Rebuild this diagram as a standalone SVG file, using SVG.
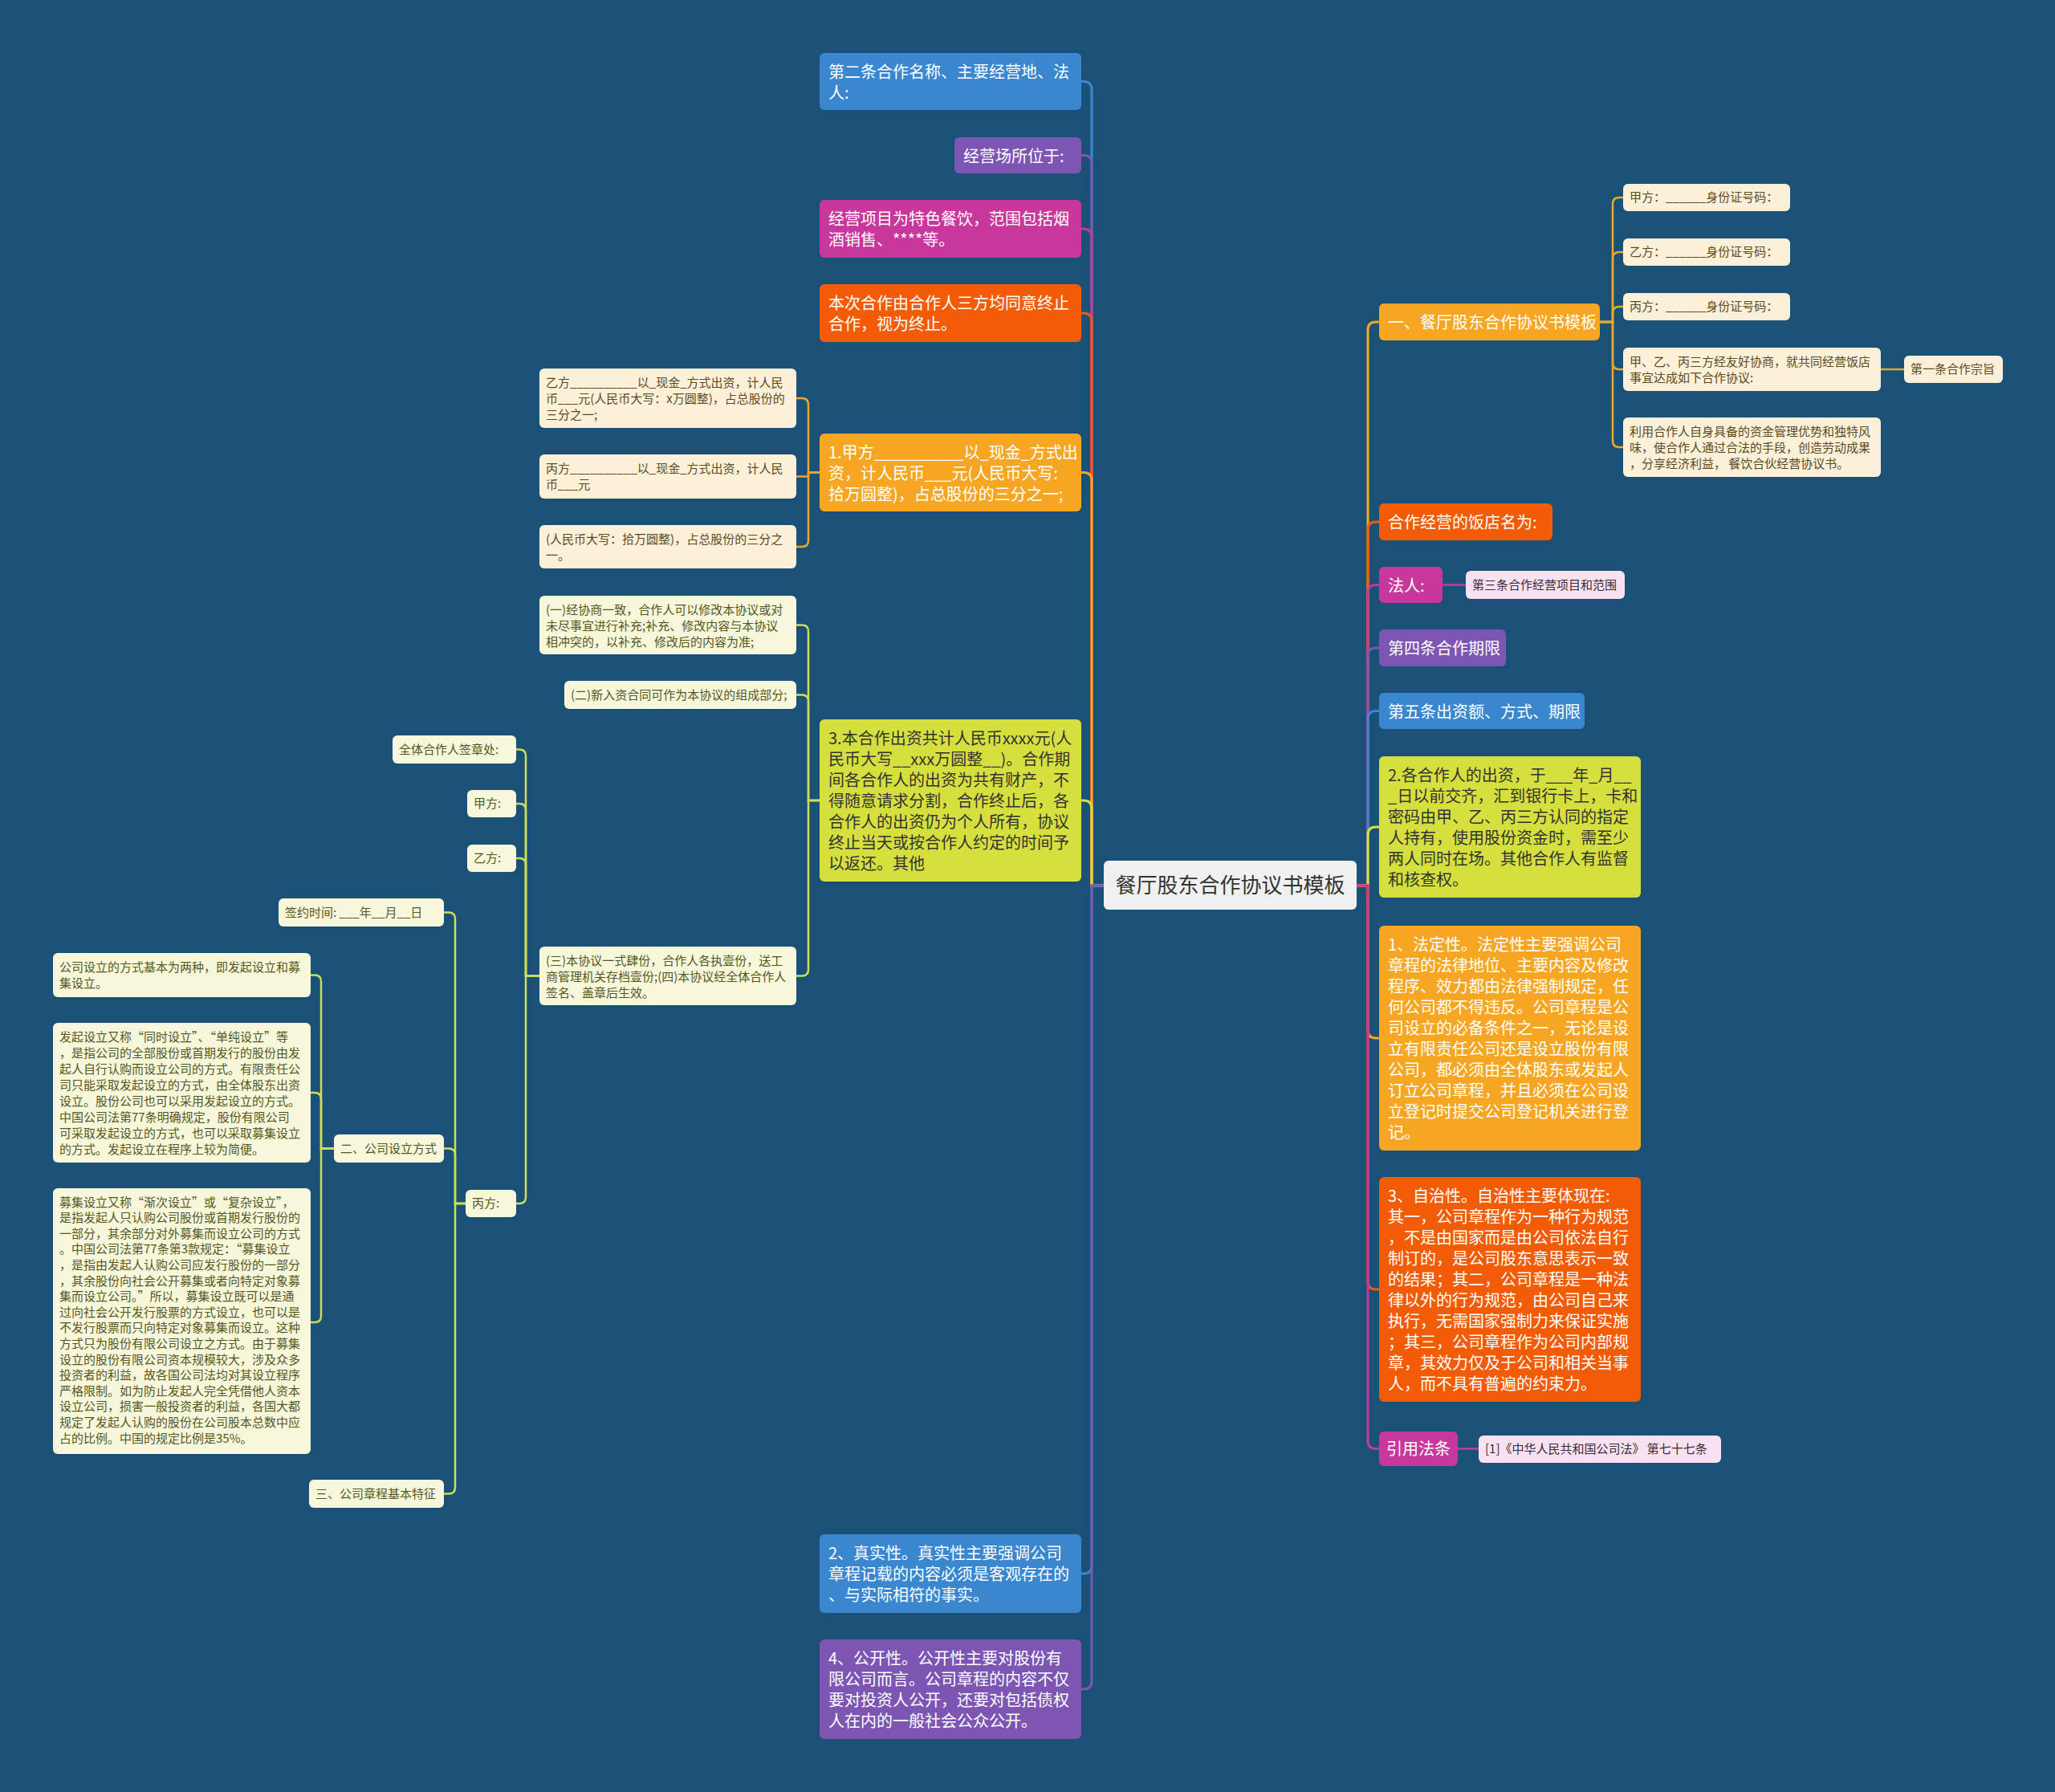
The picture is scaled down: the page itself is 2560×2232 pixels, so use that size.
<svg xmlns="http://www.w3.org/2000/svg" width="2560" height="2232" viewBox="0 0 2560 2232">
<style>
text{font-family:"Noto Sans CJK SC","Noto Sans",sans-serif}
.L{font-size:20px;fill:#ffffff}
.Ld{font-size:20px;fill:#333333}
.Sc{font-size:15px;fill:#5b4a1e}
.Sg{font-size:15px;fill:#55561a}
.Sp{font-size:15px;fill:#3a2a35}
.c{fill:none;stroke-width:3;stroke-linecap:round}
.cs{fill:none;stroke-width:2.5;stroke-linecap:round}
.blue{fill:#3a87d0}.purple{fill:#7d56b4}.mag{fill:#c8379b}.orange{fill:#f35c06}.gold{fill:#f6a623}.yg{fill:#d5e03e}
.cream{fill:#fdf0d8}.pale{fill:#f7f7dc}.pink{fill:#f8e1f1}
</style>
<rect x="0" y="0" width="2560" height="2232" fill="#1b5177"/>
<g id="connectors">
<path class="c" stroke="#3a87d0" d="M1375 1103 H1360 V111.5 Q1360 101.5 1350 101.5 H1347"/>
<path class="c" stroke="#7d56b4" d="M1375 1103 H1360 V203.5 Q1360 193.5 1350 193.5 H1347"/>
<path class="c" stroke="#c8379b" d="M1375 1103 H1360 V295 Q1360 285 1350 285 H1347"/>
<path class="c" stroke="#f35c06" d="M1375 1103 H1360 V400 Q1360 390 1350 390 H1347"/>
<path class="c" stroke="#f6a623" d="M1375 1103 H1360 V598.5 Q1360 588.5 1350 588.5 H1347"/>
<path class="c" stroke="#d5e03e" d="M1375 1103 H1360 V1007 Q1360 997 1350 997 H1347"/>
<path class="c" stroke="#3a87d0" d="M1375 1103 H1360 V1950 Q1360 1960 1350 1960 H1347"/>
<path class="c" stroke="#7d56b4" d="M1375 1103 H1360 V2094 Q1360 2104 1350 2104 H1347"/>
<path class="c" stroke="#f6a623" d="M1690 1103 H1704 V411 Q1704 401 1714 401 H1718"/>
<path class="c" stroke="#f35c06" d="M1690 1103 H1704 V660 Q1704 650 1714 650 H1718"/>
<path class="c" stroke="#c8379b" d="M1690 1103 H1704 V738.5 Q1704 728.5 1714 728.5 H1718"/>
<path class="c" stroke="#7d56b4" d="M1690 1103 H1704 V817 Q1704 807 1714 807 H1718"/>
<path class="c" stroke="#3a87d0" d="M1690 1103 H1704 V895.5 Q1704 885.5 1714 885.5 H1718"/>
<path class="c" stroke="#d5e03e" d="M1690 1103 H1704 V1040 Q1704 1030 1714 1030 H1718"/>
<path class="c" stroke="#f6a623" d="M1690 1103 H1704 V1283 Q1704 1293 1714 1293 H1718"/>
<path class="c" stroke="#f35c06" d="M1690 1103 H1704 V1596 Q1704 1606 1714 1606 H1718"/>
<path class="c" stroke="#c8379b" d="M1690 1103 H1704 V1794.5 Q1704 1804.5 1714 1804.5 H1718"/>
<path class="cs" stroke="#e6a82e" d="M1021 588.5 H1007 V504 Q1007 496 999 496 H992"/>
<path class="cs" stroke="#e6a82e" d="M1021 588.5 H1007 V593.5 H992"/>
<path class="cs" stroke="#e6a82e" d="M1021 588.5 H1007 V673 Q1007 681 999 681 H992"/>
<path class="cs" stroke="#c9df5a" d="M1021 997 H1007 V786.5 Q1007 778.5 999 778.5 H992"/>
<path class="cs" stroke="#c9df5a" d="M1021 997 H1007 V873.5 Q1007 865.5 999 865.5 H992"/>
<path class="cs" stroke="#c9df5a" d="M1021 997 H1007 V1207.5 Q1007 1215.5 999 1215.5 H992"/>
<path class="cs" stroke="#c9df5a" d="M672 1215.5 H655 V941.5 Q655 933.5 647 933.5 H643"/>
<path class="cs" stroke="#c9df5a" d="M672 1215.5 H655 V1009 Q655 1001 647 1001 H643"/>
<path class="cs" stroke="#c9df5a" d="M672 1215.5 H655 V1077 Q655 1069 647 1069 H643"/>
<path class="cs" stroke="#c9df5a" d="M672 1215.5 H655 V1491 Q655 1499 647 1499 H643"/>
<path class="cs" stroke="#c9df5a" d="M580 1499 H567 V1144.5 Q567 1136.5 559 1136.5 H553"/>
<path class="cs" stroke="#c9df5a" d="M580 1499 H567 V1438.5 Q567 1430.5 559 1430.5 H553"/>
<path class="cs" stroke="#c9df5a" d="M580 1499 H567 V1852.5 Q567 1860.5 559 1860.5 H553"/>
<path class="cs" stroke="#c9df5a" d="M416 1430.5 H400 V1222.5 Q400 1214.5 392 1214.5 H387"/>
<path class="cs" stroke="#c9df5a" d="M416 1430.5 H400 V1369 Q400 1361 392 1361 H387"/>
<path class="cs" stroke="#c9df5a" d="M416 1430.5 H400 V1639 Q400 1647 392 1647 H387"/>
<path class="cs" stroke="#e6a82e" d="M1993 401 H2009 V254 Q2009 246 2017 246 H2022"/>
<path class="cs" stroke="#e6a82e" d="M1993 401 H2009 V322 Q2009 314 2017 314 H2022"/>
<path class="cs" stroke="#e6a82e" d="M1993 401 H2009 V390 Q2009 382 2017 382 H2022"/>
<path class="cs" stroke="#e6a82e" d="M1993 401 H2009 V452 Q2009 460 2017 460 H2022"/>
<path class="cs" stroke="#e6a82e" d="M1993 401 H2009 V549 Q2009 557 2017 557 H2022"/>
<path class="cs" stroke="#e6a82e" d="M2343 460 H2372"/>
<path class="cs" stroke="#c8379b" d="M1797 728.5 H1826"/>
<path class="cs" stroke="#c8379b" d="M1816 1804.5 H1842"/>
</g>
<g id="root"><rect x="1375" y="1072" width="315" height="61" rx="6" fill="#f0f0f0"/><text x="1532.5" y="1112" font-size="26" fill="#333" text-anchor="middle">餐厅股东合作协议书模板</text></g>
<g id="n1"><rect class="blue" x="1021" y="66" width="326" height="71" rx="6"/><text class="L" x="1032" y="96.5"><tspan x="1032">第二条合作名称、主要经营地、法</tspan><tspan x="1032" dy="26">人:</tspan></text></g>
<g id="n2"><rect class="purple" x="1189" y="171" width="158" height="45" rx="6"/><text class="L" x="1200" y="201.5">经营场所位于:</text></g>
<g id="n3"><rect class="mag" x="1021" y="249" width="326" height="72" rx="6"/><text class="L" x="1032" y="279.5"><tspan x="1032">经营项目为特色餐饮，范围包括烟</tspan><tspan x="1032" dy="26">酒销售、****等。</tspan></text></g>
<g id="n4"><rect class="orange" x="1021" y="354" width="326" height="72" rx="6"/><text class="L" x="1032" y="384.5"><tspan x="1032">本次合作由合作人三方均同意终止</tspan><tspan x="1032" dy="26">合作，视为终止。</tspan></text></g>
<g id="n5"><rect class="gold" x="1021" y="540" width="326" height="97" rx="6"/><text class="L" x="1032" y="570.5"><tspan x="1032">1.甲方__________以_现金_方式出</tspan><tspan x="1032" dy="26">资，计人民币___元(人民币大写:</tspan><tspan x="1032" dy="26">拾万圆整)，占总股份的三分之一;</tspan></text></g>
<g id="n6"><rect class="yg" x="1021" y="896" width="326" height="202" rx="6"/><text class="Ld" x="1032" y="926.5"><tspan x="1032">3.本合作出资共计人民币xxxx元(人</tspan><tspan x="1032" dy="26">民币大写__xxx万圆整__)。合作期</tspan><tspan x="1032" dy="26">间各合作人的出资为共有财产，不</tspan><tspan x="1032" dy="26">得随意请求分割，合作终止后，各</tspan><tspan x="1032" dy="26">合作人的出资仍为个人所有，协议</tspan><tspan x="1032" dy="26">终止当天或按合作人约定的时间予</tspan><tspan x="1032" dy="26">以返还。其他</tspan></text></g>
<g id="n7"><rect class="blue" x="1021" y="1911" width="326" height="98" rx="6"/><text class="L" x="1032" y="1941.5"><tspan x="1032">2、真实性。真实性主要强调公司</tspan><tspan x="1032" dy="26">章程记载的内容必须是客观存在的</tspan><tspan x="1032" dy="26">、与实际相符的事实。</tspan></text></g>
<g id="n8"><rect class="purple" x="1021" y="2042" width="326" height="124" rx="6"/><text class="L" x="1032" y="2072.5"><tspan x="1032">4、公开性。公开性主要对股份有</tspan><tspan x="1032" dy="26">限公司而言。公司章程的内容不仅</tspan><tspan x="1032" dy="26">要对投资人公开，还要对包括债权</tspan><tspan x="1032" dy="26">人在内的一般社会公众公开。</tspan></text></g>
<g id="c1"><rect class="cream" x="672" y="459" width="320" height="74" rx="6"/><text class="Sc" x="680" y="481.5"><tspan x="680">乙方__________以_现金_方式出资，计人民</tspan><tspan x="680" dy="20">币___元(人民币大写：x万圆整)，占总股份的</tspan><tspan x="680" dy="20">三分之一;</tspan></text></g>
<g id="c2"><rect class="cream" x="672" y="566" width="320" height="55" rx="6"/><text class="Sc" x="680" y="588.5"><tspan x="680">丙方__________以_现金_方式出资，计人民</tspan><tspan x="680" dy="20">币___元</tspan></text></g>
<g id="c3"><rect class="cream" x="672" y="654" width="320" height="54" rx="6"/><text class="Sc" x="680" y="676.5"><tspan x="680">(人民币大写：拾万圆整)，占总股份的三分之</tspan><tspan x="680" dy="20">一。</tspan></text></g>
<g id="g1"><rect class="pale" x="672" y="742" width="320" height="73" rx="6"/><text class="Sg" x="680" y="764.5"><tspan x="680">(一)经协商一致，合作人可以修改本协议或对</tspan><tspan x="680" dy="20">未尽事宜进行补充;补充、修改内容与本协议</tspan><tspan x="680" dy="20">相冲突的，以补充、修改后的内容为准;</tspan></text></g>
<g id="g2"><rect class="pale" x="703" y="848" width="289" height="35" rx="6"/><text class="Sg" x="711" y="870.5">(二)新入资合同可作为本协议的组成部分;</text></g>
<g id="g3"><rect class="pale" x="672" y="1179" width="320" height="73" rx="6"/><text class="Sg" x="680" y="1201.5"><tspan x="680">(三)本协议一式肆份，合作人各执壹份，送工</tspan><tspan x="680" dy="20">商管理机关存档壹份;(四)本协议经全体合作人</tspan><tspan x="680" dy="20">签名、盖章后生效。</tspan></text></g>
<g id="s1"><rect class="pale" x="489" y="916" width="154" height="35" rx="6"/><text class="Sg" x="497" y="938.5">全体合作人签章处:</text></g>
<g id="s2"><rect class="pale" x="582" y="984" width="61" height="34" rx="6"/><text class="Sg" x="590" y="1006">甲方:</text></g>
<g id="s3"><rect class="pale" x="582" y="1052" width="61" height="34" rx="6"/><text class="Sg" x="590" y="1074">乙方:</text></g>
<g id="s4"><rect class="pale" x="580" y="1482" width="63" height="34" rx="6"/><text class="Sg" x="588" y="1504">丙方:</text></g>
<g id="u1"><rect class="pale" x="347" y="1119" width="206" height="35" rx="6"/><text class="Sg" x="355" y="1141.5">签约时间: ___年__月__日</text></g>
<g id="u2"><rect class="pale" x="416" y="1413" width="137" height="35" rx="6"/><text class="Sg" x="424" y="1435.5">二、公司设立方式</text></g>
<g id="u3"><rect class="pale" x="385" y="1843" width="168" height="35" rx="6"/><text class="Sg" x="393" y="1865.5">三、公司章程基本特征</text></g>
<g id="v1"><rect class="pale" x="66" y="1187" width="321" height="55" rx="6"/><text class="Sg" x="74" y="1209.5"><tspan x="74">公司设立的方式基本为两种，即发起设立和募</tspan><tspan x="74" dy="20">集设立。</tspan></text></g>
<g id="v2"><rect class="pale" x="66" y="1274" width="321" height="174" rx="6"/><text class="Sg" x="74" y="1296.5"><tspan x="74">发起设立又称“同时设立”、“单纯设立”等</tspan><tspan x="74" dy="20">，是指公司的全部股份或首期发行的股份由发</tspan><tspan x="74" dy="20">起人自行认购而设立公司的方式。有限责任公</tspan><tspan x="74" dy="20">司只能采取发起设立的方式，由全体股东出资</tspan><tspan x="74" dy="20">设立。股份公司也可以采用发起设立的方式。</tspan><tspan x="74" dy="20">中国公司法第77条明确规定，股份有限公司</tspan><tspan x="74" dy="20">可采取发起设立的方式，也可以采取募集设立</tspan><tspan x="74" dy="20">的方式。发起设立在程序上较为简便。</tspan></text></g>
<g id="v3"><rect class="pale" x="66" y="1480" width="321" height="331" rx="6"/><text class="Sg" x="74" y="1502.5"><tspan x="74">募集设立又称“渐次设立”或“复杂设立”，</tspan><tspan x="74" dy="19.6">是指发起人只认购公司股份或首期发行股份的</tspan><tspan x="74" dy="19.6">一部分，其余部分对外募集而设立公司的方式</tspan><tspan x="74" dy="19.6">。中国公司法第77条第3款规定：“募集设立</tspan><tspan x="74" dy="19.6">，是指由发起人认购公司应发行股份的一部分</tspan><tspan x="74" dy="19.6">，其余股份向社会公开募集或者向特定对象募</tspan><tspan x="74" dy="19.6">集而设立公司。”所以，募集设立既可以是通</tspan><tspan x="74" dy="19.6">过向社会公开发行股票的方式设立，也可以是</tspan><tspan x="74" dy="19.6">不发行股票而只向特定对象募集而设立。这种</tspan><tspan x="74" dy="19.6">方式只为股份有限公司设立之方式。由于募集</tspan><tspan x="74" dy="19.6">设立的股份有限公司资本规模较大，涉及众多</tspan><tspan x="74" dy="19.6">投资者的利益，故各国公司法均对其设立程序</tspan><tspan x="74" dy="19.6">严格限制。如为防止发起人完全凭借他人资本</tspan><tspan x="74" dy="19.6">设立公司，损害一般投资者的利益，各国大都</tspan><tspan x="74" dy="19.6">规定了发起人认购的股份在公司股本总数中应</tspan><tspan x="74" dy="19.6">占的比例。中国的规定比例是35%。</tspan></text></g>
<g id="r1"><rect class="gold" x="1718" y="378" width="275" height="46" rx="6"/><text class="L" x="1729" y="408.5">一、餐厅股东合作协议书模板</text></g>
<g id="r2"><rect class="orange" x="1718" y="627" width="216" height="46" rx="6"/><text class="L" x="1729" y="657.5">合作经营的饭店名为:</text></g>
<g id="r3"><rect class="mag" x="1718" y="706" width="79" height="45" rx="6"/><text class="L" x="1729" y="736.5">法人:</text></g>
<g id="r4"><rect class="purple" x="1718" y="784" width="158" height="46" rx="6"/><text class="L" x="1729" y="814.5">第四条合作期限</text></g>
<g id="r5"><rect class="blue" x="1718" y="863" width="256" height="45" rx="6"/><text class="L" x="1729" y="893.5">第五条出资额、方式、期限</text></g>
<g id="r6"><rect class="yg" x="1718" y="942" width="326" height="176" rx="6"/><text class="Ld" x="1729" y="972.5"><tspan x="1729">2.各合作人的出资，于___年_月__</tspan><tspan x="1729" dy="26">_日以前交齐，汇到银行卡上，卡和</tspan><tspan x="1729" dy="26">密码由甲、乙、丙三方认同的指定</tspan><tspan x="1729" dy="26">人持有，使用股份资金时，需至少</tspan><tspan x="1729" dy="26">两人同时在场。其他合作人有监督</tspan><tspan x="1729" dy="26">和核查权。</tspan></text></g>
<g id="r7"><rect class="gold" x="1718" y="1153" width="326" height="280" rx="6"/><text class="L" x="1729" y="1183.5"><tspan x="1729">1、法定性。法定性主要强调公司</tspan><tspan x="1729" dy="26">章程的法律地位、主要内容及修改</tspan><tspan x="1729" dy="26">程序、效力都由法律强制规定，任</tspan><tspan x="1729" dy="26">何公司都不得违反。公司章程是公</tspan><tspan x="1729" dy="26">司设立的必备条件之一，无论是设</tspan><tspan x="1729" dy="26">立有限责任公司还是设立股份有限</tspan><tspan x="1729" dy="26">公司，都必须由全体股东或发起人</tspan><tspan x="1729" dy="26">订立公司章程，并且必须在公司设</tspan><tspan x="1729" dy="26">立登记时提交公司登记机关进行登</tspan><tspan x="1729" dy="26">记。</tspan></text></g>
<g id="r8"><rect class="orange" x="1718" y="1466" width="326" height="280" rx="6"/><text class="L" x="1729" y="1496.5"><tspan x="1729">3、自治性。自治性主要体现在:</tspan><tspan x="1729" dy="26">其一，公司章程作为一种行为规范</tspan><tspan x="1729" dy="26">，不是由国家而是由公司依法自行</tspan><tspan x="1729" dy="26">制订的，是公司股东意思表示一致</tspan><tspan x="1729" dy="26">的结果；其二，公司章程是一种法</tspan><tspan x="1729" dy="26">律以外的行为规范，由公司自己来</tspan><tspan x="1729" dy="26">执行，无需国家强制力来保证实施</tspan><tspan x="1729" dy="26">；其三，公司章程作为公司内部规</tspan><tspan x="1729" dy="26">章，其效力仅及于公司和相关当事</tspan><tspan x="1729" dy="26">人，而不具有普遍的约束力。</tspan></text></g>
<g id="r9"><rect class="mag" x="1718" y="1783" width="98" height="43" rx="6"/><text class="L" x="1727" y="1812">引用法条</text></g>
<g id="w1"><rect class="cream" x="2022" y="229" width="208" height="34" rx="6"/><text class="Sc" x="2030" y="251">甲方：______身份证号码：</text></g>
<g id="w2"><rect class="cream" x="2022" y="297" width="208" height="34" rx="6"/><text class="Sc" x="2030" y="319">乙方：______身份证号码：</text></g>
<g id="w3"><rect class="cream" x="2022" y="365" width="208" height="34" rx="6"/><text class="Sc" x="2030" y="387">丙方：______身份证号码：</text></g>
<g id="w4"><rect class="cream" x="2022" y="433" width="321" height="54" rx="6"/><text class="Sc" x="2030" y="455.5"><tspan x="2030">甲、乙、丙三方经友好协商，就共同经营饭店</tspan><tspan x="2030" dy="20">事宜达成如下合作协议:</tspan></text></g>
<g id="w5"><rect class="cream" x="2022" y="520" width="321" height="74" rx="6"/><text class="Sc" x="2030" y="542.5"><tspan x="2030">利用合作人自身具备的资金管理优势和独特风</tspan><tspan x="2030" dy="20">味，使合作人通过合法的手段，创造劳动成果</tspan><tspan x="2030" dy="20">，分享经济利益， 餐饮合伙经营协议书。</tspan></text></g>
<g id="w6"><rect class="cream" x="2372" y="443" width="123" height="34" rx="6"/><text class="Sc" x="2380" y="465">第一条合作宗旨</text></g>
<g id="p1"><rect class="pink" x="1826" y="711" width="198" height="35" rx="6"/><text class="Sp" x="1834" y="733.5">第三条合作经营项目和范围</text></g>
<g id="p2"><rect class="pink" x="1842" y="1788" width="302" height="34" rx="6"/><text class="Sp" x="1850" y="1810">[1]《中华人民共和国公司法》 第七十七条</text></g>
</svg>
